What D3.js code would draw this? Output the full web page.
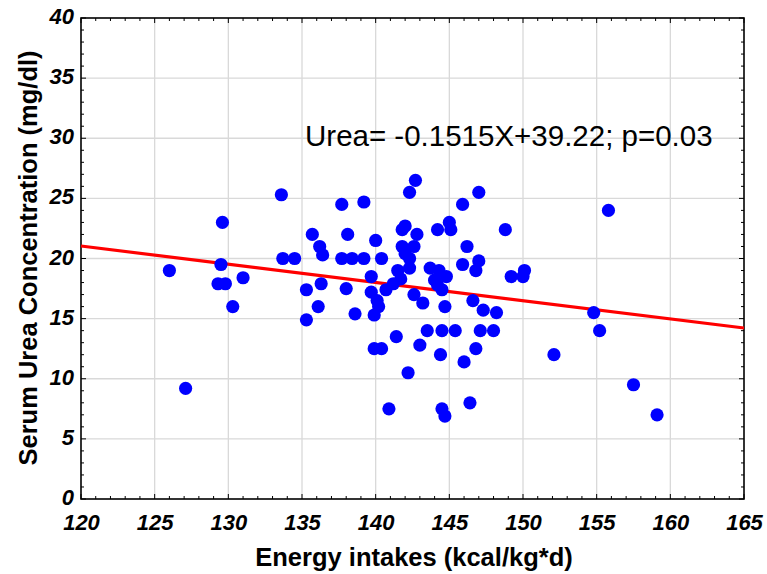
<!DOCTYPE html>
<html>
<head>
<meta charset="utf-8">
<script src="https://cdn.jsdelivr.net/npm/d3@7"></script>
<style>
  html, body { margin: 0; padding: 0; background: #fff; }
  svg { display: block; }
</style>
</head>
<body>
<svg id="chart" width="767" height="574"></svg>
<script>
// ---- data ----
const energy = [
  126.0, 127.1, 129.6, 129.5, 129.3, 129.8, 130.3, 131.0, 133.6, 133.7,
  134.5, 135.3, 135.3, 135.7, 136.1, 136.2, 136.3, 136.4, 137.7, 137.7,
  138.1, 138.0, 138.4, 138.6, 139.2, 139.2, 139.7, 139.7, 140.0, 139.9,
  140.1, 140.2, 139.9, 140.4, 140.4, 140.7, 140.9, 141.2, 141.7, 141.5,
  141.4, 141.8, 142.0, 141.8, 142.0, 142.3, 142.3, 142.6, 142.3, 142.7,
  142.8, 142.6, 143.2, 143.0, 142.2, 143.5, 143.7, 144.2, 144.3, 144.0,
  144.2, 144.5, 144.8, 144.7, 144.5, 144.4, 144.5, 144.7, 145.0, 145.1,
  145.4, 145.9, 145.9, 146.2, 146.0, 146.4, 146.6, 146.8, 147.0, 147.0,
  146.8, 147.1, 147.3, 148.0, 148.2, 148.8, 149.2, 150.0, 150.1, 152.1,
  154.8, 155.2, 155.8, 157.5, 159.1
];
const urea = [
  19.0, 9.2, 23.0, 19.5, 17.9, 17.9, 16.0, 18.4, 25.3, 20.0,
  20.0, 17.4, 14.9, 22.0, 16.0, 21.0, 17.9, 20.3, 24.5, 20.0,
  22.0, 17.5, 20.0, 15.4, 24.7, 20.0, 18.5, 17.2, 21.5, 15.3,
  16.5, 16.0, 12.5, 12.5, 20.0, 17.4, 7.5, 17.9, 18.3, 19.0,
  13.5, 22.4, 22.7, 21.0, 20.4, 20.0, 19.2, 21.0, 25.5, 26.5,
  22.0, 17.0, 16.3, 12.8, 10.5, 14.0, 19.2, 22.4, 19.0, 18.2,
  17.8, 17.4, 18.5, 16.0, 14.0, 12.0, 7.5, 6.9, 23.0, 22.4,
  14.0, 24.5, 19.5, 21.0, 11.4, 8.0, 16.5, 19.0, 19.8, 25.5,
  12.5, 14.0, 15.7, 14.0, 15.5, 22.4, 18.5, 18.5, 19.0, 12.0,
  15.5, 14.0, 24.0, 9.5, 7.0
];
const xTicks = [120, 125, 130, 135, 140, 145, 150, 155, 160, 165];
const yTicks = [0, 5, 10, 15, 20, 25, 30, 35, 40];
const slope = -0.1515;
const intercept = 39.22;
const annotation = "Urea= -0.1515X+39.22; p=0.03";
const xTitle = "Energy intakes (kcal/kg*d)";
const yTitle = "Serum Urea Concentration (mg/dl)";

// ---- layout ----
const L = 81, R = 744, T = 18, B = 499;
const svg = d3.select("#chart");
const x = d3.scaleLinear().domain([120, 165]).range([L, R]);
const y = d3.scaleLinear().domain([0, 40]).range([B, T]);
const FONT = "'Liberation Sans', Arial, sans-serif";

// grid
const grid = svg.append("g");
grid.selectAll("line.gx").data(xTicks.slice(1, -1)).join("line")
  .attr("x1", d => x(d)).attr("x2", d => x(d)).attr("y1", T).attr("y2", B)
  .attr("stroke", "#d9d9d9").attr("stroke-width", 1.3);
grid.selectAll("line.gy").data(yTicks.slice(1, -1)).join("line")
  .attr("y1", d => y(d)).attr("y2", d => y(d)).attr("x1", L).attr("x2", R)
  .attr("stroke", "#d9d9d9").attr("stroke-width", 1.3);

// minor + major ticks (inward, all four sides)
const xMinor = d3.range(120, 166, 1);
const yMinor = d3.range(0, 41, 1);
function tickLen(d) { return d % 5 === 0 ? 5 : 3; }

const axG = svg.append("g").attr("stroke", "#000").attr("stroke-width", 1);
axG.selectAll("line.tb").data(xMinor).join("line")
  .attr("x1", d => x(d)).attr("x2", d => x(d)).attr("y1", B).attr("y2", d => B - tickLen(d));
axG.selectAll("line.tt").data(xMinor).join("line")
  .attr("x1", d => x(d)).attr("x2", d => x(d)).attr("y1", T).attr("y2", d => T + tickLen(d));
axG.selectAll("line.tl").data(yMinor).join("line")
  .attr("y1", d => y(d)).attr("y2", d => y(d)).attr("x1", L).attr("x2", d => L + tickLen(d));
axG.selectAll("line.tr").data(yMinor).join("line")
  .attr("y1", d => y(d)).attr("y2", d => y(d)).attr("x1", R).attr("x2", d => R - tickLen(d));

// frame
svg.append("rect").attr("x", L).attr("y", T).attr("width", R - L).attr("height", B - T)
  .attr("fill", "none").attr("stroke", "#000").attr("stroke-width", 1.6);

// tick labels via d3 axes
const xAxis = svg.append("g").attr("transform", `translate(0,${B})`)
  .call(d3.axisBottom(x).tickValues(xTicks).tickSize(0).tickPadding(0).tickFormat(d3.format("d")));
xAxis.select(".domain").remove();
xAxis.selectAll("text")
  .attr("dy", null).attr("y", 31)
  .style("font-family", FONT)
  .style("font-size", "22px").style("font-weight", "bold").style("font-style", "italic")
  .attr("fill", "#000");

const yAxis = svg.append("g").attr("transform", `translate(${L},0)`)
  .call(d3.axisLeft(y).tickValues(yTicks).tickSize(0).tickPadding(0).tickFormat(d3.format("d")));
yAxis.select(".domain").remove();
yAxis.selectAll("text")
  .attr("x", -7).attr("dy", "0.25em")
  .style("font-family", FONT)
  .style("font-size", "22px").style("font-weight", "bold").style("font-style", "italic")
  .attr("fill", "#000");

// regression line
svg.append("line")
  .attr("x1", x(120)).attr("y1", y(slope * 120 + intercept))
  .attr("x2", x(165)).attr("y2", y(slope * 165 + intercept))
  .attr("stroke", "#ff0000").attr("stroke-width", 3.2);

// points
svg.append("g").selectAll("circle").data(energy.map((e, i) => [e, urea[i]])).join("circle")
  .attr("cx", d => x(d[0])).attr("cy", d => y(d[1])).attr("r", 6.6)
  .attr("fill", "#0000ff");

// annotation
svg.append("text").attr("x", 305).attr("y", 146)
  .style("font-family", FONT)
  .style("font-size", "29.5px").attr("fill", "#000")
  .text(annotation);

// titles
svg.append("text").attr("x", 414).attr("y", 566).attr("text-anchor", "middle")
  .style("font-family", FONT)
  .style("font-size", "25.5px").style("font-weight", "bold").attr("fill", "#000")
  .text(xTitle);
svg.append("text").attr("transform", "translate(37,258) rotate(-90)").attr("text-anchor", "middle")
  .style("font-family", FONT)
  .style("font-size", "25.5px").style("font-weight", "bold").attr("fill", "#000")
  .text(yTitle);
</script>
</body>
</html>
